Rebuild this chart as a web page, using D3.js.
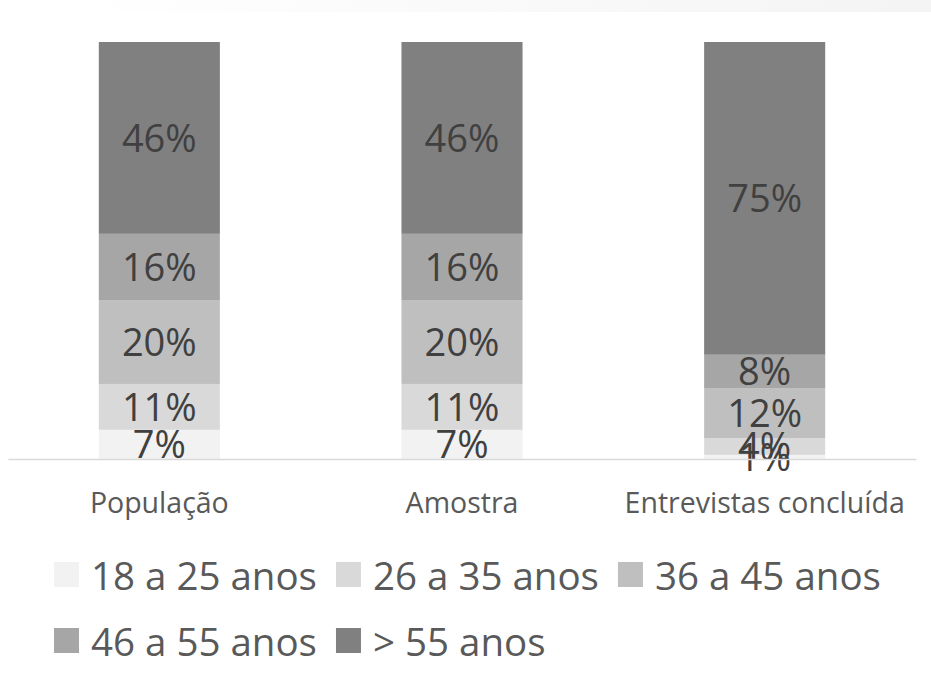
<!DOCTYPE html>
<html>
<head>
<meta charset="utf-8">
<script src="https://cdn.jsdelivr.net/npm/d3@7/dist/d3.min.js"></script>
<style>
  html, body { margin: 0; padding: 0; background: #ffffff; }
  svg { display: block; }
</style>
</head>
<body>
<svg id="chart" width="931" height="684"></svg>
<script>
const categories = ["População", "Amostra", "Entrevistas concluída"];
const seriesNames = ["18 a 25 anos", "26 a 35 anos", "36 a 45 anos", "46 a 55 anos", "> 55 anos"];
const s18_25 = [7, 7, 1];
const s26_35 = [11, 11, 4];
const s36_45 = [20, 20, 12];
const s46_55 = [16, 16, 8];
const s55plus = [46, 46, 75];
const seriesValues = [s18_25, s26_35, s36_45, s46_55, s55plus];
const seriesColors = ["#f2f2f2", "#d9d9d9", "#bfbfbf", "#a6a6a6", "#808080"];

const svg = d3.select("#chart");
const FONT = "'Open Sans', 'Noto Sans', sans-serif";

// subtle top gradient band
const defs = svg.append("defs");
const grad = defs.append("linearGradient").attr("id", "topband")
  .attr("x1", "0%").attr("x2", "100%").attr("y1", "0%").attr("y2", "0%");
grad.append("stop").attr("offset", "0%").attr("stop-color", "#ffffff");
grad.append("stop").attr("offset", "100%").attr("stop-color", "#f4f4f4");
svg.append("rect").attr("x", 60).attr("y", 0).attr("width", 871).attr("height", 12)
  .attr("fill", "url(#topband)");

const x = d3.scaleBand().domain(categories).range([8, 916]).paddingInner(0.6).paddingOuter(0.3);
const y = d3.scaleLinear().domain([0, 100]).range([459, 42]);

// build stacked data
const rows = categories.map((c, i) => {
  const o = { cat: c };
  seriesNames.forEach((s, j) => o[s] = seriesValues[j][i]);
  return o;
});
const stack = d3.stack().keys(seriesNames)(rows);

const g = svg.append("g");
stack.forEach((layer, j) => {
  g.selectAll(null).data(layer).enter().append("rect")
    .attr("x", d => x(d.data.cat))
    .attr("width", x.bandwidth())
    .attr("y", d => y(d[1]))
    .attr("height", d => y(d[0]) - y(d[1]))
    .attr("fill", seriesColors[j]);
});

// axis
const axis = svg.append("g").attr("transform", "translate(0,459)")
  .call(d3.axisBottom(x).tickSize(0).tickPadding(34));
axis.select(".domain").attr("stroke", "#d9d9d9").attr("stroke-width", 1.5);
axis.selectAll("text").attr("font-family", FONT).attr("font-size", 28.5)
  .attr("fill", "#595959");

// data labels
stack.forEach((layer, j) => {
  g.selectAll(null).data(layer).enter().append("text")
    .attr("x", d => x(d.data.cat) + x.bandwidth() / 2)
    .attr("y", d => (y(d[0]) + y(d[1])) / 2 + 14)
    .attr("text-anchor", "middle")
    .attr("font-family", FONT).attr("font-size", 38)
    .attr("fill", "#404040")
    .text(d => (d[1] - d[0]) + "%");
});

// legend
const legendRows = [[0, 1, 2], [3, 4]];
const baselines = [590, 656];
legendRows.forEach((row, r) => {
  let cx = 54;
  row.forEach(j => {
    svg.append("rect").attr("x", cx).attr("y", baselines[r] - 28).attr("width", 25).attr("height", 25)
      .attr("fill", seriesColors[j]);
    const t = svg.append("text").attr("x", cx + 37).attr("y", baselines[r])
      .attr("font-family", FONT).attr("font-size", 38.5)
      .attr("fill", "#595959").text(seriesNames[j]);
    cx = cx + 37 + t.node().getComputedTextLength() + 19;
  });
});
</script>
</body>
</html>
